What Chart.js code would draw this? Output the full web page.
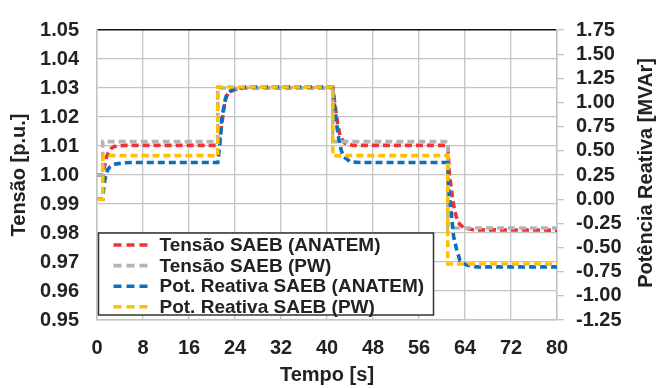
<!DOCTYPE html>
<html>
<head>
<meta charset="utf-8">
<script src="https://cdn.jsdelivr.net/npm/chart.js@4"></script>
<style>
  html, body { margin: 0; padding: 0; background: #fff; }
  canvas { display: block; }
</style>
</head>
<body>
<canvas id="c" width="657" height="388"></canvas>
<script>
// Series labels (legend order)
const seriesLabels = [
  'Tensão SAEB (ANATEM)',
  'Tensão SAEB (PW)',
  'Pot. Reativa SAEB (ANATEM)',
  'Pot. Reativa SAEB (PW)'
];

// Tensão SAEB (ANATEM) [p.u.]
const tVAnatem = [0, 1, 1.3, 1.6, 2.0, 2.5, 3.0, 4.0, 5.0, 21.0, 21.3, 21.6, 21.9, 22.3, 22.9, 24.2, 25.5,
                  41.0, 41.2, 41.5, 41.9, 42.3, 43.1, 44.5, 61.0, 61.3, 61.8, 62.2, 62.8, 63.7, 65.4, 80];
const vAnatem  = [1.000, 1.000, 1.003, 1.006, 1.0078, 1.0092, 1.0098, 1.0101, 1.0102, 1.0102, 1.0125, 1.016,
                  1.0205, 1.026, 1.0285, 1.0296, 1.030, 1.030, 1.027, 1.0227, 1.0171, 1.0132, 1.011, 1.0102,
                  1.0102, 1.0003, 0.9925, 0.9875, 0.9836, 0.9819, 0.9811, 0.9810];

// Tensão SAEB (PW) [p.u.]
const tVPw = [0, 1, 1, 21, 21, 41, 41, 61, 61, 80];
const vPw  = [1.000, 1.000, 1.0115, 1.0115, 1.030, 1.030, 1.0115, 1.0115, 0.9817, 0.9817];

// Pot. Reativa SAEB (ANATEM) [MVAr]
const tQAnatem = [0, 1, 1.15, 1.35, 1.6, 1.9, 2.3, 2.8, 3.4, 4.5, 6, 21.0, 21.3, 21.5, 21.7, 22.1, 22.5, 23.4,
                  24.5, 26, 41.0, 41.2, 41.7, 42.2, 42.8, 44.0, 45.7, 61.0, 61.2, 61.6, 62.0, 62.5, 63.1, 64.2, 66, 80];
const qAnatem  = [0, 0, 0.10, 0.19, 0.26, 0.31, 0.335, 0.355, 0.365, 0.375, 0.38, 0.38, 0.53, 0.66, 0.83, 0.97,
                  1.07, 1.13, 1.145, 1.16, 1.16, 1.035, 0.765, 0.563, 0.445, 0.388, 0.38, 0.38, 0.09, -0.14,
                  -0.38, -0.51, -0.63, -0.68, -0.70, -0.70];

// Pot. Reativa SAEB (PW) [MVAr]
const tQPw = [0, 1, 1, 21, 21, 41, 41, 61, 61, 80];
const qPw  = [0, 0, 0.45, 0.45, 1.16, 1.16, 0.45, 0.45, -0.67, -0.67];

// Axis ticks
const xTicks = [0, 8, 16, 24, 32, 40, 48, 56, 64, 72, 80];
const vTicks = [0.95, 0.96, 0.97, 0.98, 0.99, 1.00, 1.01, 1.02, 1.03, 1.04, 1.05];
const qTicks = [-1.25, -1.00, -0.75, -0.50, -0.25, 0.00, 0.25, 0.50, 0.75, 1.00, 1.25, 1.50, 1.75];

const colors = ['#ee3338', '#b4b4b4', '#0b6fbe', '#ffc000'];

const FONT = "'Liberation Sans', Arial, sans-serif";
const GRID = '#c4c4c4';
const TEXT = '#222222';

function zip(ts, ys) { return ts.map((t, i) => ({ x: t, y: ys[i] })); }

function ds(i, ts, ys, axis, order) {
  return {
    label: seriesLabels[i],
    data: zip(ts, ys),
    yAxisID: axis,
    borderColor: colors[i],
    backgroundColor: colors[i],
    borderWidth: 3.6,
    borderDash: [7, 4],
    borderCapStyle: 'butt',
    pointRadius: 0,
    tension: 0,
    fill: false,
    order: order
  };
}

function fixedTicks(list) {
  return scale => { scale.ticks = list.map(v => ({ value: v })); };
}

// Boxed legend in the lower-left corner of the plot, plus right-hand axis title
const decorations = {
  id: 'decorations',
  afterDatasetsDraw(chart) {
    const { ctx, chartArea } = chart;
    const x0 = chartArea.left + 1.5, y0 = chartArea.bottom - 87;
    const w = 335, h = 82;
    ctx.save();
    ctx.fillStyle = '#fff';
    ctx.fillRect(x0, y0, w, h);
    ctx.strokeStyle = '#333';
    ctx.lineWidth = 1.5;
    ctx.strokeRect(x0, y0, w, h);
    ctx.font = 'bold 19px ' + FONT;
    ctx.textBaseline = 'middle';
    ctx.fillStyle = TEXT;
    chart.data.datasets.forEach((d, i) => {
      const y = y0 + 12 + i * 20.6;
      ctx.beginPath();
      ctx.setLineDash([8, 5]);
      ctx.lineWidth = 3.6;
      ctx.strokeStyle = d.borderColor;
      ctx.moveTo(x0 + 15, y);
      ctx.lineTo(x0 + 54, y);
      ctx.stroke();
      ctx.setLineDash([]);
      ctx.fillText(d.label, x0 + 61, y + 1);
    });
    ctx.restore();
  },
  afterDraw(chart) {
    const { ctx, chartArea } = chart;
    ctx.save();
    ctx.font = 'bold 20px ' + FONT;
    ctx.fillStyle = TEXT;
    ctx.textAlign = 'center';
    ctx.textBaseline = 'middle';
    ctx.translate(646, (chartArea.top + chartArea.bottom) / 2 - 2);
    ctx.rotate(-Math.PI / 2);
    ctx.fillText('Potência Reativa [MVAr]', 0, 0);
    ctx.restore();
  }
};

new Chart(document.getElementById('c'), {
  type: 'line',
  data: {
    datasets: [
      ds(0, tVAnatem, vAnatem, 'yV', 4),
      ds(1, tVPw, vPw, 'yV', 3),
      ds(2, tQAnatem, qAnatem, 'yQ', 2),
      ds(3, tQPw, qPw, 'yQ', 1)
    ]
  },
  options: {
    responsive: false,
    animation: false,
    devicePixelRatio: 1,
    layout: { padding: { top: 22, left: 0, right: 0, bottom: 0 } },
    plugins: { legend: { display: false }, tooltip: { enabled: false } },
    scales: {
      x: {
        type: 'linear',
        min: 0, max: 80,
        afterBuildTicks: fixedTicks(xTicks),
        afterFit: s => { s.height = 68; },
        grid: { color: GRID, lineWidth: 1.3, drawTicks: false },
        border: { color: GRID, width: 1.5 },
        ticks: { padding: 16, autoSkip: false, color: TEXT, font: { family: FONT, size: 20, weight: 'bold' }, maxRotation: 0 },
        title: { display: true, text: 'Tempo [s]', color: TEXT, padding: { top: 0, bottom: 1 },
                 font: { family: FONT, size: 20, weight: 'bold' } }
      },
      yV: {
        type: 'linear',
        position: 'left',
        min: 0.95, max: 1.05,
        afterBuildTicks: fixedTicks(vTicks),
        afterFit: s => { s.width = 97; },
        grid: {
          color: c => (c.tick && Math.abs(c.tick.value - 1.05) < 1e-9) ? '#111' : GRID,
          lineWidth: c => (c.tick && Math.abs(c.tick.value - 1.05) < 1e-9) ? 1.5 : 1.3,
          drawTicks: false
        },
        border: { color: GRID, width: 1.5 },
        ticks: { padding: 18, autoSkip: false, color: TEXT, font: { family: FONT, size: 20, weight: 'bold' },
                 callback: v => Number(v).toFixed(2) },
        title: { display: true, text: 'Tensão [p.u.]', color: TEXT, padding: { top: 7, bottom: 0 },
                 font: { family: FONT, size: 20, weight: 'bold' } }
      },
      yQ: {
        type: 'linear',
        position: 'right',
        min: -1.25, max: 1.75,
        afterBuildTicks: fixedTicks(qTicks),
        afterFit: s => { s.width = 100; },
        grid: { drawOnChartArea: false, drawTicks: true, tickLength: 7, color: GRID, lineWidth: 1.3 },
        border: { color: GRID, width: 1.5 },
        ticks: { padding: 12, autoSkip: false, color: TEXT, font: { family: FONT, size: 20, weight: 'bold' },
                 callback: v => Number(v).toFixed(2) }
      }
    }
  },
  plugins: [decorations]
});
</script>
</body>
</html>
